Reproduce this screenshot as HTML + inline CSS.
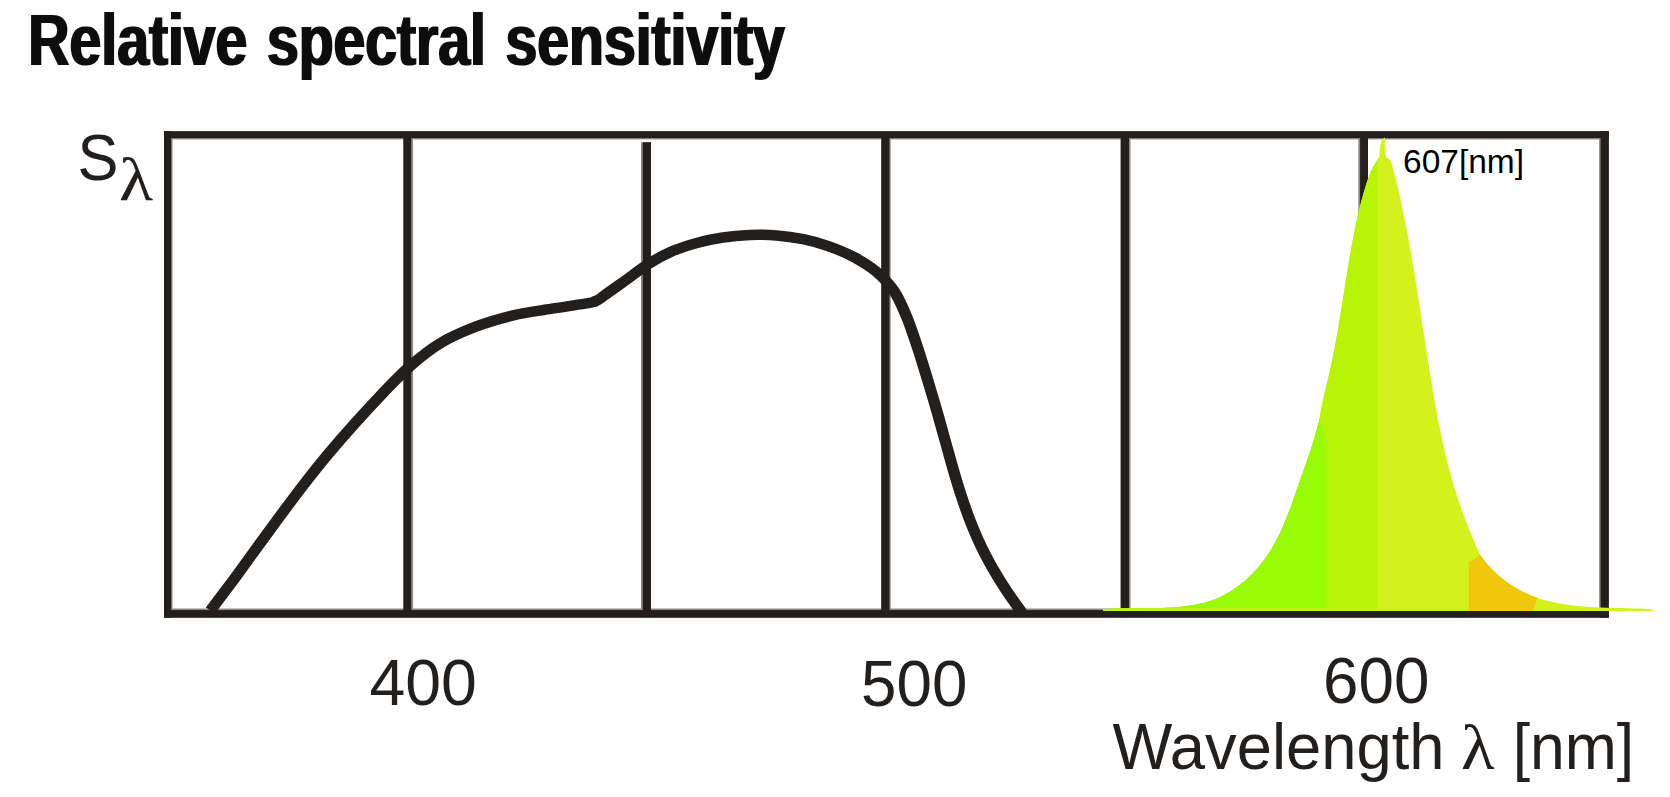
<!DOCTYPE html>
<html lang="en">
<head>
<meta charset="utf-8">
<title>Relative spectral sensitivity</title>
<style>
  html, body { margin: 0; padding: 0; background: #ffffff; }
  body { width: 1670px; height: 797px; overflow: hidden; font-family: "Liberation Sans", sans-serif; }
  svg { display: block; }
</style>
</head>
<body>
<svg width="1670" height="797" viewBox="0 0 1670 797">
<defs>
  <clipPath id="peak"><path d="M1103.2,609.5 L1111.1,608.8 L1119.2,608.4 L1127.4,608.2 L1135.8,608.2 L1144.3,608.1 L1152.9,608.1 L1161.4,608.0 L1170.0,607.6 L1178.5,607.1 L1186.9,606.1 L1195.1,604.8 L1203.2,603.0 L1211.1,600.7 L1218.7,597.7 L1226.0,594.0 L1233.0,589.8 L1239.7,585.0 L1246.1,579.7 L1252.1,574.0 L1257.8,567.8 L1263.0,561.3 L1267.9,554.5 L1272.3,547.5 L1276.3,540.2 L1280.1,532.7 L1283.5,525.1 L1286.7,517.3 L1289.8,509.5 L1292.7,501.6 L1295.4,493.6 L1298.2,485.7 L1300.9,477.8 L1303.7,469.9 L1306.5,462.1 L1309.2,454.3 L1311.8,446.4 L1314.2,438.5 L1316.5,430.5 L1318.5,422.4 L1319.2,421.8 L1320.5,412.6 L1322.2,403.4 L1324.3,394.3 L1326.5,385.2 L1328.7,376.1 L1330.7,367.0 L1332.6,357.9 L1334.4,348.8 L1336.1,339.6 L1337.8,330.4 L1339.3,321.3 L1340.8,312.1 L1342.3,302.9 L1343.8,293.7 L1345.2,284.5 L1346.7,275.2 L1348.2,266.0 L1349.7,256.8 L1351.3,247.6 L1353.0,238.4 L1354.8,229.3 L1356.7,220.1 L1358.8,211.0 L1361.1,202.0 L1363.6,193.0 L1366.3,184.1 L1369.3,175.3 L1373.0,166.9 L1377.7,159.2 L1379.4,156.3 L1379.9,147.6 L1381.2,141.4 L1384.3,137.5 L1385.1,138.8 L1384.7,147.6 L1385.1,153.7 L1386.9,158.1 L1390.4,159.9 L1392.6,167.5 L1394.7,175.2 L1396.7,182.9 L1398.5,190.6 L1400.3,198.4 L1401.9,206.2 L1403.5,214.0 L1405.1,221.8 L1406.6,229.6 L1408.1,237.4 L1409.5,245.3 L1410.9,253.1 L1412.2,261.0 L1413.6,268.8 L1414.9,276.7 L1416.2,284.5 L1417.4,292.4 L1418.7,300.2 L1419.9,308.1 L1421.1,316.0 L1422.3,323.9 L1423.5,331.7 L1424.7,339.6 L1425.9,347.5 L1427.1,355.4 L1428.4,363.3 L1429.6,371.2 L1430.9,379.1 L1432.2,386.9 L1433.5,394.8 L1434.9,402.7 L1436.3,410.5 L1437.8,418.3 L1439.3,426.1 L1440.9,433.9 L1442.6,441.7 L1444.4,449.5 L1446.2,457.2 L1448.1,464.9 L1450.2,472.6 L1452.3,480.3 L1454.5,487.9 L1456.9,495.5 L1459.4,503.1 L1462.0,510.6 L1464.7,518.1 L1467.5,525.5 L1470.6,533.0 L1473.7,540.3 L1479.7,554.3 L1483.7,559.7 L1488.0,564.9 L1492.5,569.7 L1497.2,574.3 L1502.2,578.5 L1507.4,582.4 L1512.8,586.0 L1518.4,589.3 L1524.1,592.3 L1530.0,595.0 L1536.0,597.3 L1542.1,599.4 L1548.4,601.1 L1554.7,602.6 L1561.1,603.8 L1567.6,604.8 L1574.1,605.6 L1580.7,606.3 L1587.3,606.8 L1594.0,607.2 L1600.6,607.5 L1607.3,607.7 L1613.9,607.9 L1620.5,608.0 L1627.1,608.2 L1633.6,608.4 L1640.1,608.6 L1646.4,608.9 L1652.7,609.4 L1652.8,610.9 L1103.0,610.9 Z"/></clipPath>
  <filter id="fat" x="-2%" y="-10%" width="104%" height="120%"><feMorphology operator="dilate" radius="1 0"/></filter>
</defs>
<rect width="1670" height="797" fill="#ffffff"/>

<!-- frame -->
<g fill="#8d8986">
  <rect x="164" y="131.2" width="1444.8" height="8.2"/>
  <rect x="164" y="608.5" width="1444.8" height="9.2"/>
  <rect x="164" y="131.2" width="8.5" height="486.4"/>
  <rect x="1599.1" y="131.2" width="9.7" height="486.4"/>
  <rect x="403.4" y="135" width="9.6" height="478"/>
  <rect x="641" y="142.4" width="10" height="470"/>
  <rect x="881.3" y="135" width="9.4" height="478"/>
  <rect x="1120.7" y="135" width="9.8" height="478"/>
  <rect x="1358.3" y="135" width="9.7" height="478"/>
</g>
<g fill="#231f1d">
  <rect x="164" y="131.2" width="1444.8" height="6.9"/>
  <rect x="164" y="610.1" width="1444.8" height="7.6"/>
  <rect x="164" y="131.2" width="7.2" height="486.4"/>
  <rect x="1600.6" y="131.2" width="8.2" height="486.4"/>
  <!-- grid lines -->
  <rect x="403.4" y="135" width="7.8" height="478"/>
  <rect x="642.8" y="142.2" width="8.2" height="470"/>
  <rect x="881.3" y="135" width="8.1" height="478"/>
  <rect x="1120.7" y="135" width="8.3" height="478"/>
  <rect x="1360.1" y="135" width="7.9" height="478"/>
</g>

<!-- sensitivity curve -->
<g transform="scale(1.08,1)"><path d="M194.9,610.6 C198.5,605.4 209.5,589.7 216.7,579.2 C223.9,568.6 231.0,557.9 238.1,547.3 C245.3,536.7 252.4,526.1 259.6,515.6 C266.9,505.0 274.1,494.5 281.5,484.2 C289.0,473.8 296.5,463.5 304.3,453.5 C312.1,443.4 320.1,433.5 328.2,423.8 C336.3,414.0 344.5,404.4 352.9,394.9 C361.4,385.5 369.6,375.7 378.7,367.1 C387.8,358.5 397.2,350.1 407.5,343.4 C417.8,336.6 429.2,331.4 440.5,326.7 C451.8,322.0 463.5,318.4 475.3,315.4 C487.1,312.4 499.3,310.9 511.2,308.7 C523.2,306.6 540.7,303.9 547.2,302.6 C553.8,301.4 549.3,301.9 550.5,301.4 C551.6,300.9 553.1,300.2 554.2,299.6 C555.2,299.0 556.0,298.4 556.9,297.7 C557.9,297.0 555.9,298.3 559.7,295.3 C563.5,292.3 573.0,285.1 579.8,279.9 C586.5,274.7 593.1,268.8 600.1,264.1 C607.1,259.4 614.3,255.1 621.8,251.5 C629.3,248.0 637.2,245.3 645.1,242.9 C653.1,240.6 661.2,238.8 669.4,237.5 C677.6,236.1 685.9,235.3 694.2,234.9 C702.5,234.6 710.9,234.7 719.1,235.4 C727.4,236.1 735.6,237.4 743.7,239.2 C751.8,241.0 759.8,243.3 767.6,246.3 C775.4,249.3 783.1,252.7 790.3,256.9 C797.6,261.1 804.9,265.8 811.1,271.4 C817.4,277.1 823.1,283.6 827.7,290.9 C832.3,298.1 835.5,306.8 838.8,315.0 C842.1,323.2 844.6,331.8 847.3,340.2 C850.0,348.7 852.5,357.2 854.9,365.7 C857.4,374.2 859.8,382.7 862.1,391.3 C864.5,399.8 866.8,408.3 869.0,416.9 C871.3,425.5 873.5,434.1 875.7,442.7 C877.9,451.3 880.1,460.0 882.4,468.6 C884.7,477.2 887.0,485.8 889.6,494.3 C892.2,502.8 894.8,511.2 897.8,519.5 C900.8,527.8 903.9,536.1 907.5,544.1 C911.0,552.2 914.9,560.1 918.9,567.9 C923.0,575.6 927.4,583.3 932.0,590.7 C936.6,598.2 943.9,609.0 946.3,612.6" fill="none" stroke="#231f1d" stroke-width="10.5" stroke-linecap="butt" stroke-linejoin="round"/></g>

<!-- emission peak -->
<g clip-path="url(#peak)">
  <rect x="1090" y="130" width="580" height="490" fill="#d3f21c"/>
  <rect x="1090" y="130" width="287.8" height="490" fill="#b8f405"/>
  <polygon points="1090,415 1319,415 1320.2,422.2 1326.2,440 1326.5,470 1326.5,620 1090,620" fill="#98fb08"/>
  <rect x="1090" y="608.4" width="378.6" height="4" fill="#c8f018"/>
  <polygon points="1468.6,620 1468.6,561.4 1472.1,560.2 1477.6,557.1 1480,554 1545,554 1537,598 1531,620" fill="#f0c80a"/>
</g>

<!-- texts -->
<g font-family="'Liberation Sans', Arial, sans-serif" fill="#231f1d">
  <text transform="translate(28.3,64.7) scale(0.787,1)" font-size="72.6" font-weight="bold" fill="#0a0a0c" filter="url(#fat)" word-spacing="4.6">Relative spectral sensitivity</text>
  <text transform="translate(77.6,179.6) scale(0.955,1)" font-size="64.3">S</text>
  <text transform="translate(119,199.7) scale(1.16,1)" font-size="60.6" font-family="'Liberation Serif', serif">λ</text>
  <text transform="translate(369.5,705.4) scale(0.98,1)" font-size="65.7">400</text>
  <text transform="translate(861,705.6) scale(0.97,1)" font-size="65.7">500</text>
  <text transform="translate(1323,703.4) scale(0.97,1)" font-size="65.7">600</text>
  <text transform="translate(1112.4,769) scale(0.982,1)" font-size="64.5">Wavelength</text>
  <text transform="translate(1461,769) scale(1.1,1)" font-size="63" font-family="'Liberation Serif', serif">λ</text>
  <text transform="translate(1512.7,769) scale(0.969,1)" font-size="64.5">[nm]</text>
  <text x="1403" y="173" font-size="33.5" fill="#000000">607[nm]</text>
</g>
</svg>
</body>
</html>
